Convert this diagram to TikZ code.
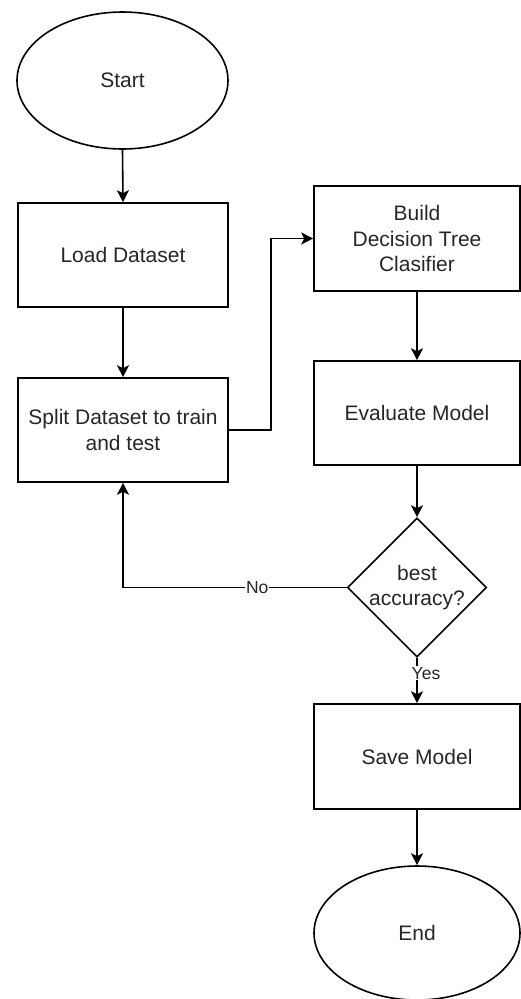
\documentclass[tikz,border=0pt]{standalone}
\usepackage{fontspec}
\setmainfont{Liberation Sans}
\usetikzlibrary{shapes.geometric,arrows.meta,calc}
\definecolor{txt}{HTML}{262626}
\tikzset{
  base/.style={draw=black, line width=1.6pt, text=txt, font=\fontsize{21}{25.5}\selectfont, align=center, inner sep=0pt},
  procbox/.style={base, rectangle, minimum width=#1, minimum height=104},
  oval/.style={base, ellipse},
  decision/.style={base, diamond, minimum width=139, minimum height=139},
  conn/.style={line width=1.6pt, -{Stealth[length=12pt,width=12pt,inset=3pt]}},
  lbl/.style={fill=white, inner sep=1pt, text=txt, font=\fontsize{17.5}{20}\selectfont}
}
\begin{document}
\begin{tikzpicture}[x=1pt,y=-1pt]
\useasboundingbox (0,0) rectangle (521,999);
\node[oval, minimum width=211, minimum height=137] (start) at (122.5,80.5) {Start};
\node[procbox=210] (load) at (123,255) {Load Dataset};
\node[procbox=210] (split) at (123,430) {Split Dataset to train\\and test};
\node[procbox=206, minimum height=105] (build) at (417,238.5) {Build\\Decision Tree\\Clasifier};
\node[procbox=206] (eval) at (417,413) {Evaluate Model};
\node[decision, label={[text=txt, font=\fontsize{21}{25.5}\selectfont, align=center]center:best\\accuracy?}] (dec) at (417,587.5) {};
\node[procbox=206, minimum height=105] (save) at (417,756.5) {Save Model};
\node[oval, minimum width=206, minimum height=134] (end) at (417,933) {End};

\draw[conn] (start.south) -- (load.north);
\draw[conn] (load.south) -- (split.north);
\draw[conn] (split.east) -- ($(split.east)!0.5!(split.east -| build.west)$) |- (build.west);
\draw[conn] (build.south) -- (eval.north);
\draw[conn] (eval.south) -- (dec.north);
\draw[conn] (dec.west) -| node[lbl, pos=0.2] {No} (split.south);
\draw[conn] (dec.south) -- node[lbl, pos=0.34, xshift=9pt] {Yes} (save.north);
\draw[conn] (save.south) -- (end.north);
\end{tikzpicture}
\end{document}
